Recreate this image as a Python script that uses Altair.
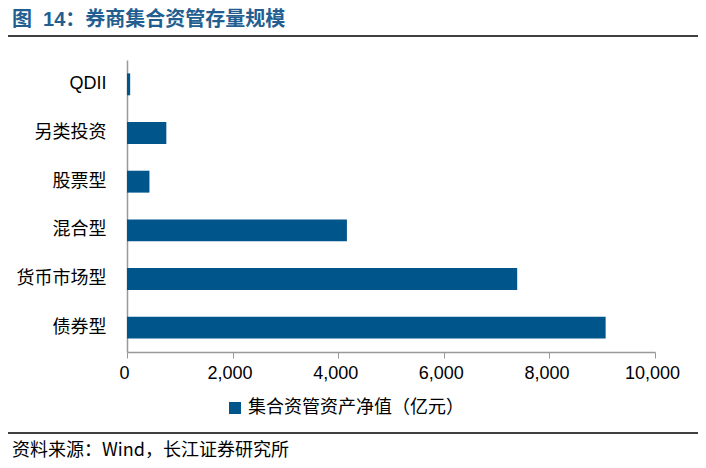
import altair as alt
import pandas as pd

categories = ["QDII", "另类投资", "股票型", "混合型", "货币市场型", "债券型"]
values = [60, 745, 425, 4165, 7390, 9065]
series_name = "集合资管资产净值（亿元）"
title_text = "图\u00a0\u00a014：券商集合资管存量规模"
source_text = "资料来源：Wind，长江证券研究所"
x_ticks = [0, 2000, 4000, 6000, 8000, 10000]

BLUE = "#00558a"
FONT = "Liberation Sans, Noto Sans CJK SC"

df = pd.DataFrame({"cat": categories, "val": values, "series": [series_name] * len(categories)})

W, H = 528, 292
PL, PT = 119, 52
TOTAL_W, TOTAL_H = 690, 452

bars = alt.Chart(df).mark_bar(color=BLUE).encode(
    y=alt.Y("cat:N", sort=categories, title=None,
            scale=alt.Scale(paddingInner=0.55, paddingOuter=0.275),
            axis=alt.Axis(ticks=False, labelPadding=21, labelFontSize=18, labelColor="#000",
                          labelFont=FONT, domainColor="#999", domainWidth=1.5)),
    x=alt.X("val:Q", title=None, scale=alt.Scale(domain=[0, 10000], nice=False),
            axis=alt.Axis(values=x_ticks, format=",d", grid=False, tickSize=6, tickColor="#999",
                          domainColor="#999", domainWidth=1.5, labelFontSize=18, labelColor="#000",
                          labelFont=FONT, labelPadding=6, labelFlush=False, labelOffset=-3)),
    color=alt.Color("series:N", scale=alt.Scale(range=[BLUE]),
                    legend=alt.Legend(title=None, orient="none", legendX=99, legendY=339,
                                      symbolType="square", symbolSize=144, symbolStrokeWidth=0,
                                      labelFontSize=18, labelFont=FONT, labelColor="#000",
                                      labelLimit=400)),
)

title = alt.Chart(pd.DataFrame({"t": [title_text]})).mark_text(
    align="left", baseline="middle", fontSize=20, fontWeight=600, color="#235e91", font=FONT
).encode(x=alt.value(-115), y=alt.value(-40), text="t:N")

source = alt.Chart(pd.DataFrame({"t": [source_text]})).mark_text(
    align="left", baseline="middle", fontSize=18, color="#000", font="Liberation Sans Narrow, Noto Sans CJK SC"
).encode(x=alt.value(-115), y=alt.value(391), text="t:N")

rule_top = alt.Chart(pd.DataFrame({"a": [0]})).mark_rule(color="#000", strokeWidth=1.5).encode(
    x=alt.value(-PL), x2=alt.value(TOTAL_W - PL), y=alt.value(-24))
rule_bot = alt.Chart(pd.DataFrame({"a": [0]})).mark_rule(color="#000", strokeWidth=1.5).encode(
    x=alt.value(-PL), x2=alt.value(TOTAL_W - PL), y=alt.value(373))

chart = alt.layer(bars, title, source, rule_top, rule_bot).properties(
    width=W, height=H,
    autosize=alt.AutoSizeParams(type="none"),
    padding={"left": PL, "top": PT, "right": TOTAL_W - PL - W, "bottom": TOTAL_H - PT - H},
).configure_view(stroke=None)

chart.save("out.html", embed_options={"renderer": "svg", "actions": False})
